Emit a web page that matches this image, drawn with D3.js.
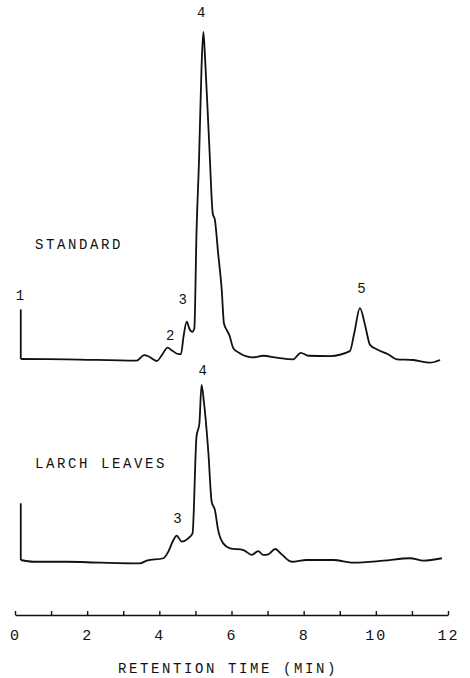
<!DOCTYPE html>
<html>
<head>
<meta charset="utf-8">
<script src="https://cdn.jsdelivr.net/npm/d3@7"></script>
<style>
  body { margin: 0; background: #fff; }
  text { font-family: "Liberation Mono", "DejaVu Sans Mono", monospace; fill: #111; }
</style>
</head>
<body>
<div id="chart"></div>
<script>
// chart size
var svgWidth = 470;
var svgHeight = 678;

// standard trace (minutes, relative signal, peak 4 = 100); first point = injection mark top
var stdTime = [0.16, 0.16, 1.43, 3.37, 3.58, 3.72, 3.93, 4.07, 4.23, 4.34, 4.53, 4.60, 4.67, 4.76, 4.83, 4.91, 4.97,
  5.03, 5.10, 5.17, 5.22, 5.27, 5.39, 5.48, 5.54, 5.63, 5.73, 5.79, 5.87, 5.94, 6.05, 6.24, 6.60, 6.88, 7.25,
  7.71, 7.92, 8.13, 8.73, 9.28, 9.40, 9.56, 9.70, 9.84, 10.02, 10.35, 10.58, 11.04, 11.50, 11.78];
var stdSignal = [15.4, 0.3, 0.2, -0.2, 1.5, 1.0, -0.3, 1.5, 3.8, 3.0, 1.8, 1.8, 7.1, 11.7, 9.6, 8.6, 9.6,
  38.7, 61, 89.4, 100, 91.5, 64, 44.7, 42.7, 32.5, 21.3, 11.2, 9.1, 7.6, 3.6, 2.0, 0.8, 1.3, 0.7,
  0.2, 2.2, 1.3, 1.2, 2.7, 8.1, 15.8, 10.7, 4.6, 3.3, 1.7, 0.2, 0, -0.8, 0];

// larch leaves trace
var larchTime = [0.16, 0.16, 0.51, 1.43, 2.36, 3.46, 3.65, 4.11, 4.25, 4.39, 4.48, 4.62, 4.80, 4.92, 5.03, 5.11,
  5.17, 5.24, 5.36, 5.45, 5.54, 5.63, 5.77, 5.96, 6.33, 6.56, 6.74, 6.88, 7.02, 7.21, 7.39, 7.67, 8.08,
  8.82, 9.38, 10.21, 10.95, 11.32, 11.83];
var larchSignal = [32.4, 0, -1.0, -1.0, -1.5, -1.9, -0.4, 1.0, 4.8, 11.4, 13.9, 10.5, 12.4, 15.2, 70.5, 78,
  100, 89.5, 61, 33.3, 28.6, 17.1, 9.5, 6.7, 5.7, 2.9, 5.1, 2.9, 3.2, 6.3, 3.2, -1.0, 0,
  0, -1.5, -0.4, 1.0, -0.4, 1.0];

// peak numbers: [time, signal, label]
var stdPeaks = [[0.14, 18.3, "1"], [4.3, 6, "2"], [4.65, 17, "3"], [5.16, 104.5, "4"], [9.6, 20.5, "5"]];
var larchPeaks = [[4.5, 21, "3"], [5.2, 106, "4"]];

var tickValues = d3.range(0, 13, 1);
var tickLabels = ["0", "", "2", "", "4", "", "6", "", "8", "", "10", "", "12"];

var svg = d3.select('#chart')
  .append('svg')
  .attr('width', svgWidth)
  .attr('height', svgHeight);

// scales
var xScale = d3.scaleLinear().domain([0, 12]).range([15, 448]);
var yStd = d3.scaleLinear().domain([0, 100]).range([360, 32]);
var yLarch = d3.scaleLinear().domain([0, 100]).range([560, 385]);

function drawTrace(times, values, yScale) {
  var pts = times.map(function(t, i) { return [t, values[i]]; });
  var smooth = d3.line()
    .x(d => xScale(d[0]))
    .y(d => yScale(d[1]))
    .curve(d3.curveMonotoneX);
  var straight = d3.line()
    .x(d => xScale(d[0]))
    .y(d => yScale(d[1]));
  // injection mark (vertical pen stroke)
  svg.append('path')
    .datum(pts.slice(0, 2))
    .attr('d', straight)
    .attr('fill', 'none')
    .attr('stroke', '#111')
    .attr('stroke-width', 1.8);
  svg.append('path')
    .datum(pts.slice(1))
    .attr('d', smooth)
    .attr('fill', 'none')
    .attr('stroke', '#111')
    .attr('stroke-width', 1.8)
    .attr('stroke-linejoin', 'round');
}

drawTrace(stdTime, stdSignal, yStd);
drawTrace(larchTime, larchSignal, yLarch);

// peak numbers
function drawPeaks(peaks, yScale) {
  svg.selectAll(null)
    .data(peaks)
    .enter()
    .append('text')
    .attr('x', d => xScale(d[0]))
    .attr('y', d => yScale(d[1]))
    .attr('text-anchor', 'middle')
    .attr('font-size', 14)
    .text(d => d[2]);
}
drawPeaks(stdPeaks, yStd);
drawPeaks(larchPeaks, yLarch);

// trace names
svg.append('text').attr('x', 35).attr('y', 249)
  .attr('font-size', 14).attr('letter-spacing', 2.6).text('STANDARD');
svg.append('text').attr('x', 35).attr('y', 468)
  .attr('font-size', 14).attr('letter-spacing', 2.6).text('LARCH LEAVES');

// time axis
var xAxis = d3.axisBottom(xScale)
  .tickValues(tickValues)
  .tickSizeInner(-4)
  .tickSizeOuter(0)
  .tickFormat((d, i) => tickLabels[i]);

var axisG = svg.append('g')
  .attr('transform', 'translate(0, 615)')
  .call(xAxis);

axisG.select('.domain').attr('stroke', '#111').attr('stroke-width', 1.6);
axisG.selectAll('.tick line').attr('stroke', '#111').attr('stroke-width', 1.4);
axisG.selectAll('.tick text')
  .attr('y', 25)
  .attr('dy', 0)
  .attr('font-size', 15)
  .attr('letter-spacing', 2)
  .attr('font-family', '"Liberation Mono", monospace')
  .attr('fill', '#111');

svg.append('text')
  .attr('x', 228)
  .attr('y', 673)
  .attr('text-anchor', 'middle')
  .attr('font-size', 14)
  .attr('letter-spacing', 2.6)
  .text('RETENTION TIME (MIN)');
</script>
</body>
</html>
